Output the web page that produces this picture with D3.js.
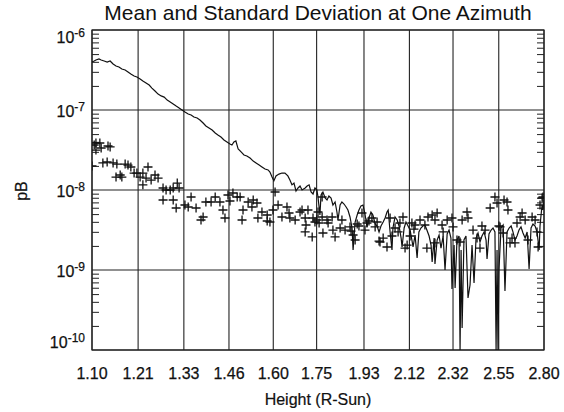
<!DOCTYPE html>
<html>
<head>
<meta charset="utf-8">
<script src="https://cdn.jsdelivr.net/npm/d3@7"></script>
<style>
  body { margin: 0; background: #fff; }
  text { font-family: "Liberation Sans", Arial, sans-serif; fill: #111; }
</style>
</head>
<body>
<div id="chart"></div>
<script>
// tick labels
var xTickLabels = [1.10, 1.21, 1.33, 1.46, 1.60, 1.75, 1.93, 2.12, 2.32, 2.55, 2.80];
var yTickExponents = [-6, -7, -8, -9, -10];

// mean pB (solid line)
var meanHeight = [1.100, 1.105, 1.109, 1.116, 1.121, 1.128, 1.135, 1.142, 1.149, 1.156,
  1.163, 1.170, 1.178, 1.185, 1.192, 1.200, 1.207, 1.215, 1.222, 1.230,
  1.238, 1.245, 1.253, 1.261, 1.269, 1.277, 1.285, 1.293, 1.301, 1.309,
  1.317, 1.325, 1.333, 1.342, 1.350, 1.358, 1.367, 1.375, 1.384, 1.392,
  1.401, 1.410, 1.419, 1.427, 1.436, 1.445, 1.454, 1.463, 1.469, 1.475,
  1.481, 1.488, 1.497, 1.506, 1.515, 1.525, 1.535, 1.544, 1.554, 1.563,
  1.573, 1.583, 1.589, 1.596, 1.602, 1.609, 1.619, 1.629, 1.639, 1.649,
  1.656, 1.663, 1.670, 1.677, 1.684, 1.691, 1.698, 1.709, 1.716, 1.723,
  1.730, 1.737, 1.744, 1.751, 1.755, 1.762, 1.766, 1.773, 1.781, 1.788,
  1.795, 1.803, 1.810, 1.818, 1.825, 1.829, 1.837, 1.844, 1.852, 1.860,
  1.867, 1.875, 1.883, 1.887, 1.895, 1.903, 1.910, 1.918, 1.926, 1.934,
  1.942, 1.950, 1.958, 1.966, 1.975, 1.983, 1.991, 1.999, 2.008, 2.016,
  2.024, 2.029, 2.037, 2.045, 2.049, 2.058, 2.067, 2.075, 2.084, 2.088,
  2.097, 2.105, 2.114, 2.123, 2.131, 2.136, 2.145, 2.154, 2.162, 2.171,
  2.180, 2.189, 2.198, 2.208, 2.217, 2.222, 2.231, 2.235, 2.245, 2.254,
  2.263, 2.273, 2.282, 2.292, 2.301, 2.310, 2.315, 2.325, 2.330, 2.339,
  2.349, 2.354, 2.359, 2.364, 2.373, 2.383, 2.393, 2.403, 2.413, 2.423,
  2.433, 2.443, 2.453, 2.463, 2.474, 2.484, 2.489, 2.499, 2.510, 2.520,
  2.530, 2.536, 2.541, 2.546, 2.551, 2.562, 2.573, 2.583, 2.594, 2.605,
  2.616, 2.626, 2.637, 2.648, 2.659, 2.670, 2.681, 2.693, 2.704, 2.715,
  2.726, 2.737, 2.749, 2.760, 2.772, 2.777, 2.783, 2.789, 2.794, 2.800];
var meanPB = [3.98e-7, 4.10e-7, 4.22e-7, 4.34e-7, 4.22e-7, 4.10e-7, 3.98e-7, 4.10e-7, 3.76e-7, 3.55e-7,
  3.45e-7, 3.25e-7, 3.16e-7, 2.99e-7, 2.82e-7, 2.66e-7, 2.59e-7, 2.44e-7, 2.30e-7, 2.18e-7,
  2.05e-7, 1.88e-7, 1.73e-7, 1.58e-7, 1.50e-7, 1.45e-7, 1.33e-7, 1.26e-7, 1.19e-7, 1.12e-7,
  1.06e-7, 1.00e-7, 9.44e-8, 8.91e-8, 8.66e-8, 8.18e-8, 7.94e-8, 7.50e-8, 6.88e-8, 6.31e-8,
  5.96e-8, 5.62e-8, 5.16e-8, 4.87e-8, 4.60e-8, 4.22e-8, 3.98e-8, 3.76e-8, 3.65e-8, 3.98e-8,
  4.10e-8, 3.25e-8, 2.99e-8, 2.74e-8, 2.66e-8, 2.51e-8, 2.30e-8, 2.18e-8, 2.05e-8, 1.94e-8,
  1.83e-8, 1.78e-8, 1.68e-8, 1.45e-8, 1.30e-8, 1.50e-8, 1.58e-8, 1.63e-8, 1.63e-8, 1.50e-8,
  1.33e-8, 1.16e-8, 1.22e-8, 9.72e-9, 1.06e-8, 1.12e-8, 1.00e-8, 1.06e-8, 1.12e-8, 1.16e-8,
  9.44e-9, 8.91e-9, 1.06e-8, 1.00e-8, 8.18e-9, 4.87e-9, 8.66e-9, 9.44e-9, 7.94e-9, 7.50e-9,
  8.41e-9, 7.94e-9, 6.49e-9, 7.08e-9, 5.31e-9, 4.22e-9, 6.49e-9, 7.08e-9, 6.68e-9, 6.13e-9,
  5.62e-9, 4.60e-9, 3.35e-9, 1.78e-9, 3.98e-9, 4.87e-9, 5.62e-9, 6.31e-9, 6.49e-9, 5.01e-9,
  3.45e-9, 4.47e-9, 5.31e-9, 4.87e-9, 3.76e-9, 3.55e-9, 2.99e-9, 3.55e-9, 3.98e-9, 4.47e-9,
  5.31e-9, 5.62e-9, 2.99e-9, 1.78e-9, 3.35e-9, 4.60e-9, 4.22e-9, 3.55e-9, 2.51e-9, 1.94e-9,
  3.35e-9, 3.98e-9, 3.55e-9, 3.16e-9, 2.37e-9, 1.94e-9, 2.74e-9, 1.41e-9, 2.99e-9, 3.35e-9,
  3.55e-9, 3.65e-9, 3.16e-9, 2.66e-9, 2.05e-9, 1.26e-9, 2.51e-9, 1.19e-9, 2.37e-9, 2.74e-9,
  1.88e-9, 2.66e-9, 1.00e-9, 2.82e-9, 3.16e-9, 2.51e-9, 5.79e-10, 2.05e-9, 5.96e-10, 2.37e-9,
  2.66e-9, 1.00e-10, 1.78e-9, 1.88e-10, 2.37e-9, 2.66e-9, 4.47e-10, 6.49e-10, 2.05e-9, 6.88e-10,
  2.51e-9, 2.90e-9, 2.24e-9, 2.66e-9, 2.99e-9, 2.37e-9, 1.37e-9, 2.82e-9, 3.16e-9, 3.35e-9,
  2.99e-9, 1.00e-10, 1.78e-9, 1.00e-10, 1.00e-9, 3.35e-9, 3.65e-9, 5.46e-10, 2.99e-9, 3.35e-9,
  3.55e-9, 2.99e-9, 2.37e-9, 2.66e-9, 3.16e-9, 3.45e-9, 2.90e-9, 2.51e-9, 2.99e-9, 1.03e-9,
  3.35e-9, 3.76e-9, 3.55e-9, 2.99e-9, 1.78e-9, 3.55e-9, 4.87e-9, 6.49e-9, 5.62e-9, 7.50e-9];

// standard deviation (plus symbols)
var sdHeight = [1.100, 1.105, 1.109, 1.109, 1.118, 1.121, 1.125, 1.135, 1.137, 1.142,
  1.149, 1.156, 1.158, 1.166, 1.170, 1.178, 1.185, 1.192, 1.200, 1.207,
  1.215, 1.222, 1.222, 1.230, 1.235, 1.243, 1.253, 1.261, 1.274, 1.282,
  1.293, 1.301, 1.312, 1.317, 1.274, 1.301, 1.309, 1.333, 1.342, 1.350,
  1.364, 1.378, 1.384, 1.392, 1.407, 1.419, 1.433, 1.442, 1.448, 1.457,
  1.463, 1.472, 1.485, 1.494, 1.500, 1.503, 1.519, 1.531, 1.535, 1.547,
  1.550, 1.563, 1.580, 1.580, 1.589, 1.599, 1.606, 1.616, 1.629, 1.646,
  1.653, 1.656, 1.674, 1.691, 1.698, 1.709, 1.709, 1.719, 1.734, 1.737,
  1.744, 1.751, 1.759, 1.770, 1.770, 1.773, 1.788, 1.792, 1.807, 1.810,
  1.818, 1.844, 1.856, 1.875, 1.879, 1.887, 1.895, 1.910, 1.922, 1.942,
  1.950, 1.962, 1.975, 1.991, 1.995, 2.008, 2.024, 2.037, 2.045, 2.058,
  2.079, 2.101, 2.110, 2.131, 2.140, 2.145, 2.167, 2.189, 2.198, 2.203,
  2.222, 2.235, 2.235, 2.245, 2.268, 2.273, 2.292, 2.315, 2.320, 2.339,
  2.354, 2.364, 2.388, 2.393, 2.418, 2.438, 2.453, 2.463, 2.479, 2.505,
  2.530, 2.541, 2.551, 2.557, 2.573, 2.578, 2.594, 2.599, 2.610, 2.621,
  2.637, 2.648, 2.665, 2.676, 2.693, 2.709, 2.732, 2.749, 2.760, 2.766,
  2.777, 2.789, 2.794, 1.712, 1.755, 1.837, 1.903, 1.934, 1.983, 2.071,
  2.092, 2.123];
var sdPB = [2.00e-8, 3.65e-8, 3.87e-8, 3.16e-8, 3.87e-8, 3.35e-8, 2.18e-8, 2.24e-8, 3.55e-8, 3.45e-8,
  2.18e-8, 1.45e-8, 2.11e-8, 1.54e-8, 1.45e-8, 2.11e-8, 2.05e-8, 1.94e-8, 1.63e-8, 1.63e-8,
  1.45e-8, 1.63e-8, 1.16e-8, 1.41e-8, 1.94e-8, 1.33e-8, 1.54e-8, 1.41e-8, 1.06e-8, 1.00e-8,
  1.00e-8, 1.06e-8, 1.22e-8, 1.06e-8, 7.50e-9, 7.50e-9, 5.96e-9, 6.49e-9, 6.13e-9, 8.18e-9,
  5.96e-9, 4.22e-9, 4.60e-9, 7.08e-9, 7.08e-9, 8.18e-9, 7.08e-9, 5.62e-9, 4.47e-9, 8.66e-9,
  7.29e-9, 9.17e-9, 8.18e-9, 8.18e-9, 4.22e-9, 5.62e-9, 7.08e-9, 6.13e-9, 7.50e-9, 6.88e-9,
  4.47e-9, 5.31e-9, 4.87e-9, 4.10e-9, 3.98e-9, 5.62e-9, 9.44e-9, 6.49e-9, 4.60e-9, 6.13e-9,
  5.16e-9, 4.47e-9, 4.22e-9, 5.31e-9, 5.62e-9, 4.47e-9, 2.99e-9, 5.62e-9, 2.59e-9, 4.47e-9,
  3.98e-9, 4.22e-9, 3.87e-9, 4.60e-9, 8.18e-9, 2.90e-9, 4.22e-9, 3.87e-9, 4.60e-9, 3.16e-9,
  2.59e-9, 4.22e-9, 3.16e-9, 3.45e-9, 3.07e-9, 2.74e-9, 2.37e-9, 3.55e-9, 5.16e-9, 3.87e-9,
  4.10e-9, 4.47e-9, 3.45e-9, 2.30e-9, 2.24e-9, 2.51e-9, 1.94e-9, 4.47e-9, 2.66e-9, 3.35e-9,
  3.87e-9, 1.88e-9, 2.05e-9, 3.87e-9, 3.25e-9, 3.65e-9, 4.22e-9, 3.65e-9, 1.88e-9, 4.60e-9,
  4.87e-9, 4.22e-9, 2.18e-9, 5.16e-9, 3.65e-9, 2.99e-9, 4.22e-9, 4.47e-9, 3.45e-9, 2.37e-9,
  2.24e-9, 4.22e-9, 5.31e-9, 4.47e-9, 3.16e-9, 2.51e-9, 1.88e-9, 3.55e-9, 3.16e-9, 5.96e-9,
  8.18e-9, 6.88e-9, 3.55e-9, 3.45e-9, 2.90e-9, 7.50e-9, 7.08e-9, 5.62e-9, 2.18e-9, 2.51e-9,
  2.18e-9, 3.87e-9, 4.60e-9, 5.16e-9, 4.22e-9, 2.37e-9, 4.60e-9, 4.22e-9, 2.99e-9, 1.94e-9,
  6.49e-9, 7.94e-9, 8.18e-9, 3.65e-9, 5.31e-9, 3.35e-9, 3.76e-9, 3.16e-9, 3.98e-9, 2.99e-9,
  4.60e-9, 2.66e-9];

var svgWidth = 564;
var svgHeight = 412;
var margin = { top: 30, right: 20, bottom: 62, left: 92 };
var chartWidth = svgWidth - margin.left - margin.right;
var chartHeight = svgHeight - margin.top - margin.bottom;

var svg = d3.select('#chart')
  .append('svg')
  .attr('width', svgWidth)
  .attr('height', svgHeight);

var chartGroup = svg.append('g')
  .attr('transform', `translate(${margin.left}, ${margin.top})`);

var xScale = d3.scaleLog()
  .domain([1.1, 2.8])
  .range([0, chartWidth]);

var yScale = d3.scaleLog()
  .domain([1e-10, 1e-6])
  .range([chartHeight, 0]);

chartGroup.append('clipPath')
  .attr('id', 'plotclip')
  .append('rect')
  .attr('width', chartWidth)
  .attr('height', chartHeight);

// gridlines: major ticks stretched across the plot
chartGroup.selectAll('.xgrid')
  .data(xTickLabels)
  .enter()
  .append('line')
  .attr('x1', d => xScale(d))
  .attr('x2', d => xScale(d))
  .attr('y1', 0)
  .attr('y2', chartHeight)
  .attr('stroke', '#222')
  .attr('stroke-width', 1.1);

chartGroup.selectAll('.ygrid')
  .data(yTickExponents)
  .enter()
  .append('line')
  .attr('x1', 0)
  .attr('x2', chartWidth)
  .attr('y1', d => yScale(Math.pow(10, d)))
  .attr('y2', d => yScale(Math.pow(10, d)))
  .attr('stroke', '#222')
  .attr('stroke-width', 1.1);

// minor ticks on left and right axes
var minorTicks = [];
yTickExponents.slice(0, -1).forEach(function(e) {
  for (var k = 2; k <= 9; k++) minorTicks.push(k * Math.pow(10, e - 1));
});
var yLeft = d3.axisLeft(yScale).tickValues(minorTicks).tickSizeInner(-7).tickSizeOuter(0).tickFormat('');
var yRight = d3.axisRight(yScale).tickValues(minorTicks).tickSizeInner(-7).tickSizeOuter(0).tickFormat('');
chartGroup.append('g').attr('class', 'minor').call(yLeft);
chartGroup.append('g').attr('class', 'minor')
  .attr('transform', `translate(${chartWidth}, 0)`)
  .call(yRight);
chartGroup.selectAll('.minor .domain').remove();
chartGroup.selectAll('.minor line').attr('stroke', '#222');

// frame
chartGroup.append('rect')
  .attr('width', chartWidth)
  .attr('height', chartHeight)
  .attr('fill', 'none')
  .attr('stroke', '#222')
  .attr('stroke-width', 1.2);

// x tick labels
chartGroup.selectAll('.xlabel')
  .data(xTickLabels)
  .enter()
  .append('text')
  .attr('x', d => xScale(d))
  .attr('y', chartHeight + 29)
  .attr('text-anchor', 'middle')
  .style('font-size', '16px')
  .style('stroke', '#111')
  .style('stroke-width', '0.25px')
  .text(d => d.toFixed(2));

// y tick labels as 10 with superscript exponent
var yLabels = chartGroup.selectAll('.ylabel')
  .data(yTickExponents)
  .enter()
  .append('text')
  .attr('x', -7)
  .attr('y', d => Math.max(13, Math.min(chartHeight - 2, yScale(Math.pow(10, d)) + 7)))
  .attr('text-anchor', 'end')
  .style('font-size', '16px')
  .style('stroke', '#111')
  .style('stroke-width', '0.25px');
yLabels.append('tspan').text('10');
yLabels.append('tspan')
  .attr('dy', '-0.5em')
  .style('font-size', '12px')
  .text(d => '-' + Math.abs(d));

// the mean: solid line
var meanData = meanHeight.map((h, i) => ({ h: h, v: meanPB[i] }));
var line = d3.line()
  .x(d => xScale(d.h))
  .y(d => yScale(d.v));

chartGroup.append('path')
  .datum(meanData)
  .attr('clip-path', 'url(#plotclip)')
  .attr('d', line)
  .attr('fill', 'none')
  .attr('stroke', '#111')
  .attr('stroke-width', 1.2);

// standard deviation: plus signs
var sdData = sdHeight.map((h, i) => ({ h: h, v: sdPB[i] }));
chartGroup.append('g')
  .attr('clip-path', 'url(#plotclip)')
  .selectAll('path')
  .data(sdData)
  .enter()
  .append('path')
  .attr('transform', d => `translate(${xScale(d.h)}, ${yScale(d.v)})`)
  .attr('d', 'M-4.5,0H4.5M0,-4.5V4.5')
  .attr('stroke', '#111')
  .attr('stroke-width', 1.3);

// titles
svg.append('text')
  .attr('x', 318)
  .attr('y', 20)
  .attr('text-anchor', 'middle')
  .style('font-size', '21px')
  .text('Mean and Standard Deviation at One Azimuth');

svg.append('text')
  .attr('x', margin.left + chartWidth / 2)
  .attr('y', 405)
  .attr('text-anchor', 'middle')
  .style('font-size', '16px')
  .style('stroke', '#111')
  .style('stroke-width', '0.2px')
  .text('Height (R-Sun)');

svg.append('text')
  .attr('transform', 'translate(27, 191) rotate(-90)')
  .attr('text-anchor', 'middle')
  .style('font-size', '16px')
  .style('stroke', '#111')
  .style('stroke-width', '0.25px')
  .text('pB');
</script>
</body>
</html>
